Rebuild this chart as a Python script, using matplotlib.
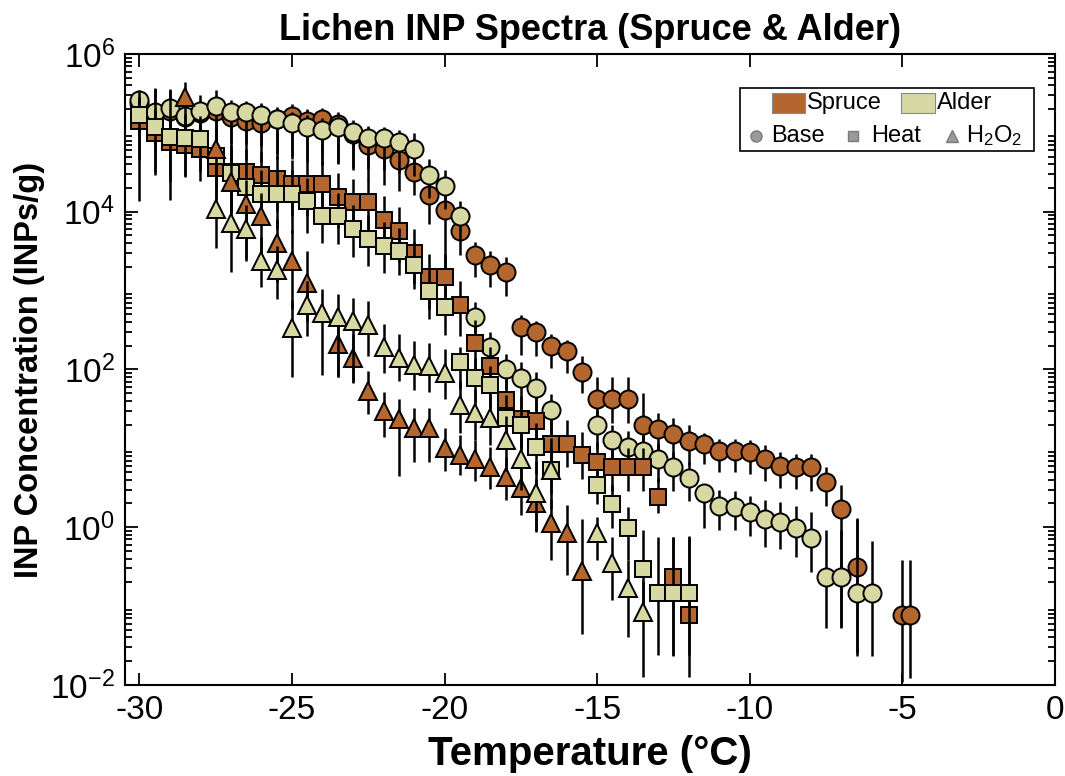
import numpy as np
import matplotlib
matplotlib.use("Agg")
import matplotlib.pyplot as plt
from matplotlib.patches import Rectangle
from matplotlib.lines import Line2D

plt.rcParams['font.family'] = ['Liberation Sans', 'DejaVu Sans']
plt.rcParams['mathtext.fontset'] = 'custom'
plt.rcParams['mathtext.rm'] = 'Liberation Sans'
plt.rcParams['mathtext.it'] = 'Liberation Sans:italic'
plt.rcParams['mathtext.bf'] = 'Liberation Sans:bold'
plt.rcParams['axes.unicode_minus'] = False

# ---------------- data (log10 of INPs/g, temperature in degC) ----------------
alder_base_T = [-30, -29.5, -29, -28.5, -28, -27.5, -27, -26.5, -26, -25.5, -25, -24.5, -24,
                -23.5, -23, -22.5, -22, -21.5, -21, -20.5, -20, -19.5, -19, -18.5, -18, -17.5,
                -17, -16.5, -15, -14.5, -14, -13.5, -13, -12.5, -12, -11.5, -11, -10.5, -10,
                -9.5, -9, -8.5, -8, -7.5, -7, -6.5, -6]
alder_base_log = [5.42, 5.26, 5.31, 5.21, 5.28, 5.34, 5.27, 5.26, 5.23, 5.18, 5.12, 5.08, 5.04,
                  5.07, 5.01, 4.94, 4.93, 4.89, 4.80, 4.47, 4.33, 3.94, 2.66, 2.28, 2.00, 1.89,
                  1.77, 1.49, 1.29, 1.10, 1.02, 0.97, 0.87, 0.76, 0.63, 0.44, 0.27, 0.26, 0.19,
                  0.10, 0.07, -0.01, -0.14, -0.63, -0.63, -0.83, -0.83]
alder_base_up = [0.13, 0.3, 0.25, 0.2, 0.2, 0.2, 0.15, 0.15, 0.15, 0.15, 0.15, 0.15, 0.15,
                 0.15, 0.15, 0.15, 0.15, 0.15, 0.2, 0.2, 0.2, 0.2, 0.2, 0.2, 0.2, 0.2,
                 0.2, 0.2, 0.2, 0.2, 0.2, 0.2, 0.2, 0.2, 0.2, 0.1, 0.2, 0.2, 0.2,
                 0.25, 0.25, 0.28, 0.33, 0.6, 0.6, 0.95, 0.65]
alder_base_dn = [0.3, 0.35, 0.4, 0.35, 0.4, 0.4, 0.4, 0.4, 0.4, 0.45, 0.45, 0.45, 0.45,
                 0.45, 0.45, 0.4, 0.4, 0.4, 0.35, 0.3, 0.3, 0.3, 0.2, 0.25, 0.25, 0.3,
                 0.3, 0.34, 0.3, 0.3, 0.3, 0.3, 0.3, 0.3, 0.3, 0.45, 0.3, 0.3, 0.3,
                 0.35, 0.35, 0.37, 0.43, 0.65, 0.65, 0.8, 0.8]

spruce_base_T = [-30, -29.5, -29, -28.5, -28, -27.5, -27, -26.5, -26, -25.5, -25, -24.5, -24,
                 -23.5, -23, -22.5, -22, -21.5, -21, -20.5, -20, -19.5, -19, -18.5, -18,
                 -17.5, -17, -16.5, -16, -15.5, -15, -14.5, -14, -13.5, -13, -12.5, -12,
                 -11.5, -11, -10.5, -10, -9.5, -9, -8.5, -8, -7.5, -7, -6.5, -5, -4.75]
spruce_base_log = [5.38, 5.25, 5.28, 5.20, 5.25, 5.28, 5.20, 5.15, 5.13, 5.17, 5.21, 5.15, 5.17,
                   5.11, 4.98, 4.85, 4.79, 4.66, 4.50, 4.21, 4.02, 3.75, 3.45, 3.32, 3.23,
                   2.54, 2.47, 2.30, 2.23, 1.97, 1.62, 1.62, 1.62, 1.30, 1.25, 1.18, 1.09,
                   1.05, 0.97, 0.97, 0.95, 0.87, 0.78, 0.76, 0.76, 0.57, 0.23, -0.50, -1.11, -1.11]
spruce_base_up = [0.15, 0.15, 0.15, 0.15, 0.15, 0.15, 0.15, 0.15, 0.15, 0.15, 0.15, 0.15, 0.15,
                  0.15, 0.15, 0.15, 0.15, 0.15, 0.2, 0.2, 0.2, 0.2, 0.17, 0.18, 0.2,
                  0.15, 0.15, 0.15, 0.15, 0.2, 0.29, 0.29, 0.29, 0.4, 0.2, 0.2, 0.2,
                  0.15, 0.15, 0.15, 0.15, 0.17, 0.17, 0.17, 0.17, 0.2, 0.3, 0.6, 0.7, 0.7]
spruce_base_dn = [0.4, 0.4, 0.4, 0.4, 0.4, 0.45, 0.5, 0.5, 0.5, 0.5, 0.5, 0.5, 0.5,
                  0.5, 0.45, 0.45, 0.45, 0.4, 0.29, 0.37, 0.88, 0.3, 0.28, 0.28, 0.3,
                  0.35, 0.3, 0.28, 0.27, 0.27, 0.3, 0.3, 0.3, 0.48, 0.3, 0.3, 0.3,
                  0.25, 0.27, 0.27, 0.27, 0.28, 0.28, 0.28, 0.3, 0.3, 1.5, 1.1, 0.85, 0.8]

spruce_heat_T = [-30, -29.5, -29, -28.5, -28, -27.5, -27, -26.5, -26, -25.5, -25, -24.5, -24,
                 -23.5, -23, -22.5, -22, -21.5, -21, -20.5, -20, -19.5, -19, -18.5, -18,
                 -17.5, -17, -16.5, -16, -15.5, -15, -14.5, -14, -13.5, -13, -12.5, -12]
spruce_heat_log = [5.15, 5.00, 4.88, 4.85, 4.79, 4.56, 4.50, 4.50, 4.46, 4.41, 4.35, 4.35, 4.35,
                   4.19, 4.12, 4.12, 3.90, 3.76, 3.48, 3.17, 3.17, 2.82, 2.33, 2.04, 1.61,
                   1.37, 1.35, 1.06, 1.06, 0.91, 0.83, 0.76, 0.76, 0.76, 0.38, -0.63, -1.11]
spruce_heat_up = [0.3, 0.3, 0.3, 0.3, 0.3, 0.3, 0.3, 0.3, 0.3, 0.3, 0.3, 0.3, 0.3,
                  0.3, 0.3, 0.3, 0.3, 0.3, 0.3, 0.3, 0.3, 0.3, 0.3, 0.25, 0.3,
                  0.3, 0.3, 0.3, 0.3, 0.3, 0.25, 0.25, 0.25, 0.25, 0.25, 0.5, 1.0]
spruce_heat_dn = [0.5, 0.5, 0.5, 0.4, 0.4, 0.4, 0.4, 0.4, 0.4, 0.4, 0.4, 0.4, 0.4,
                  0.4, 0.4, 0.4, 0.4, 0.4, 0.4, 0.4, 0.4, 0.4, 0.35, 0.35, 0.35,
                  0.35, 0.35, 0.3, 0.3, 0.3, 0.3, 0.3, 0.3, 0.3, 0.2, 1.0, 0.79]

alder_heat_T = [-30, -29.5, -29, -28.5, -28, -27.5, -27, -26.5, -26, -25.5, -25, -24.5, -24,
                -23.5, -23, -22.5, -22, -21.5, -21, -20.5, -20, -19.5, -19, -18.5, -18,
                -17.5, -17, -16.5, -15, -14.5, -14, -13.5, -13, -12.5, -12]
alder_heat_log = [5.23, 5.07, 4.95, 4.94, 4.92, 4.71, 4.49, 4.32, 4.23, 4.23, 4.23, 4.13, 3.95,
                  3.94, 3.78, 3.66, 3.57, 3.50, 3.32, 2.99, 2.79, 2.09, 1.89, 1.80, 1.38,
                  1.29, 1.02, 0.72, 0.54, 0.29, -0.01, -0.53, -0.83, -0.83, -0.83]
alder_heat_up = [0.3, 0.5, 0.6, 0.3, 0.3, 0.3, 0.35, 0.3, 0.3, 0.3, 0.3, 0.3, 0.3,
                 0.3, 0.3, 0.3, 0.3, 0.3, 0.3, 0.3, 0.3, 0.2, 0.25, 0.25, 0.3,
                 0.3, 0.3, 0.3, 0.2, 0.25, 0.27, 0.5, 0.7, 0.7, 0.7]
alder_heat_dn = [1.1, 0.6, 0.8, 0.5, 0.4, 0.4, 0.5, 0.45, 0.4, 0.45, 0.5, 0.4, 0.35,
                 0.35, 0.35, 0.35, 0.35, 0.3, 0.3, 0.35, 0.35, 0.34, 0.3, 0.3, 0.3,
                 0.3, 0.35, 0.3, 0.25, 0.3, 0.4, 0.6, 0.79, 0.79, 0.79]

spruce_h2o2_T = [-28.5, -27.5, -27, -26.5, -26, -25.5, -25, -24.5, -23.5, -23, -22.5, -22,
                 -21.5, -21, -20.5, -20, -19.5, -19, -18.5, -18, -17.5, -17, -16.5, -16, -15.5]
spruce_h2o2_log = [5.45, 4.79, 4.38, 4.10, 3.94, 3.61, 3.37, 3.10, 2.32, 2.15, 1.73, 1.47,
                   1.37, 1.26, 1.26, 1.01, 0.92, 0.86, 0.77, 0.64, 0.50, 0.31, 0.06, -0.07, -0.56]
spruce_h2o2_up = [0.2, 0.3, 0.3, 0.3, 0.3, 0.3, 0.4, 0.4, 0.3, 0.3, 0.25, 0.25,
                  0.25, 0.25, 0.25, 0.25, 0.25, 0.25, 0.25, 0.25, 0.25, 0.3, 0.3, 0.35, 0.66]
spruce_h2o2_dn = [0.3, 0.4, 0.4, 0.7, 0.5, 0.5, 0.6, 0.5, 0.41, 0.32, 0.3, 0.32,
                  0.72, 0.43, 0.43, 0.3, 0.26, 0.28, 0.29, 0.29, 0.34, 0.36, 0.47, 0.54, 0.8]

alder_h2o2_T = [-27.5, -27, -26.5, -26, -25.5, -25, -24.5, -24, -23.5, -23, -22.5, -22,
                -21.5, -21, -20.5, -20, -19.5, -19, -18.5, -18, -17.5, -17, -16.5,
                -15, -14.5, -14, -13.5]
alder_h2o2_log = [4.04, 3.86, 3.78, 3.38, 3.26, 2.53, 2.82, 2.72, 2.66, 2.61, 2.57, 2.28,
                  2.15, 2.06, 2.04, 1.96, 1.55, 1.45, 1.39, 1.11, 0.87, 0.44, 0.73,
                  -0.07, -0.45, -0.77, -1.08]
alder_h2o2_up = [0.3, 0.35, 0.3, 0.3, 0.3, 0.35, 0.3, 0.3, 0.3, 0.3, 0.3, 0.3,
                 0.3, 0.3, 0.3, 0.3, 0.3, 0.3, 0.3, 0.3, 0.3, 0.4, 0.4,
                 0.2, 0.32, 0.35, 0.4]
alder_h2o2_dn = [0.5, 0.63, 0.4, 0.34, 0.37, 0.62, 0.4, 0.79, 0.75, 0.77, 0.4, 0.32,
                 0.3, 0.32, 0.33, 0.33, 0.35, 0.35, 0.35, 0.4, 0.4, 0.5, 0.5,
                 0.34, 0.47, 0.62, 0.82]

SPRUCE = '#B4662F'
ALDER = '#D8D8A2'

fig = plt.figure(figsize=(10.65, 7.76), dpi=100)
ax = fig.add_axes([0.1171, 0.1173, 0.8735, 0.8131])


def plot_series(T, lg, up, dn, color, marker, ms, z):
    T = np.asarray(T, float)
    lg = np.asarray(lg, float)
    v = 10.0 ** lg
    lo = v - 10.0 ** (lg - np.asarray(dn))
    hi = 10.0 ** (lg + np.asarray(up)) - v
    ax.errorbar(T, v, yerr=[lo, hi], fmt=marker, ms=ms, mfc=color, mec='black', mew=1.4,
                ecolor='black', elinewidth=1.8, capsize=0, zorder=z)


plot_series(spruce_base_T, spruce_base_log, spruce_base_up, spruce_base_dn, SPRUCE, 'o', 13, 2)
plot_series(alder_base_T, alder_base_log, alder_base_up, alder_base_dn, ALDER, 'o', 13, 3)
plot_series(spruce_heat_T, spruce_heat_log, spruce_heat_up, spruce_heat_dn, SPRUCE, 's', 11.5, 4)
plot_series(alder_heat_T, alder_heat_log, alder_heat_up, alder_heat_dn, ALDER, 's', 11.5, 5)
plot_series(spruce_h2o2_T, spruce_h2o2_log, spruce_h2o2_up, spruce_h2o2_dn, SPRUCE, '^', 13.5, 6)
plot_series(alder_h2o2_T, alder_h2o2_log, alder_h2o2_up, alder_h2o2_dn, ALDER, '^', 13.5, 7)

ax.set_yscale('log')
ax.set_xlim(-30.48, 0)
ax.set_ylim(1e-2, 1e6)
ax.set_xticks([-30, -25, -20, -15, -10, -5, 0])
ax.set_yticks([1e-2, 1e0, 1e2, 1e4, 1e6])
ax.set_yticklabels([r'$10^{-2}$', r'$10^{0}$', r'$10^{2}$', r'$10^{4}$', r'$10^{6}$'])
ax.yaxis.set_minor_locator(matplotlib.ticker.LogLocator(base=10, subs=np.arange(2, 10), numticks=20))
ax.yaxis.set_minor_formatter(matplotlib.ticker.NullFormatter())
ax.tick_params(which='both', direction='in', top=True, right=True, labelsize=24, width=1.3)
ax.tick_params(axis='x', which='major', pad=7)
ax.tick_params(axis='y', which='major', pad=7)
ax.tick_params(which='major', length=9)
ax.tick_params(which='minor', length=5)
for s in ax.spines.values():
    s.set_linewidth(1.5)

ax.set_title('Lichen INP Spectra (Spruce & Alder)', fontsize=26, fontweight='bold', pad=10)
ax.set_xlabel('Temperature (°C)', fontsize=29, fontweight='bold', labelpad=7)
ax.set_ylabel('INP Concentration (INPs/g)', fontsize=23.5, fontweight='bold', labelpad=4)

# ---- legend (manual, MATLAB-like two-row box) ----
tr = ax.transAxes
ax.add_patch(Rectangle((0.661, 0.846), 0.316, 0.1, transform=tr, fill=True, fc='white',
                       ec='black', lw=1.2, zorder=10))
ax.add_patch(Rectangle((0.6955, 0.906), 0.036, 0.032, transform=tr, fc=SPRUCE, ec='#8a8a8a',
                       lw=0.8, zorder=11))
ax.text(0.733, 0.922, 'Spruce', transform=tr, fontsize=17, va='center', ha='left', zorder=11)
ax.add_patch(Rectangle((0.835, 0.906), 0.036, 0.032, transform=tr, fc=ALDER, ec='#8a8a8a',
                       lw=0.8, zorder=11))
ax.text(0.873, 0.922, 'Alder', transform=tr, fontsize=17, va='center', ha='left', zorder=11)
for mx, mk, lab, tx in [(0.679, 'o', 'Base', 0.695), (0.783, 's', 'Heat', 0.802),
                        (0.889, '^', r'H$_2$O$_2$', 0.904)]:
    ax.add_line(Line2D([mx], [0.870], transform=tr, marker=mk, ms=8 if mk != 's' else 7,
                       mfc='#9a9a9a', mec='#7a7a7a', ls='none', zorder=11))
    ax.text(tx, 0.870, lab, transform=tr, fontsize=17, va='center', ha='left', zorder=11)

fig.savefig('out.png', dpi=100)
